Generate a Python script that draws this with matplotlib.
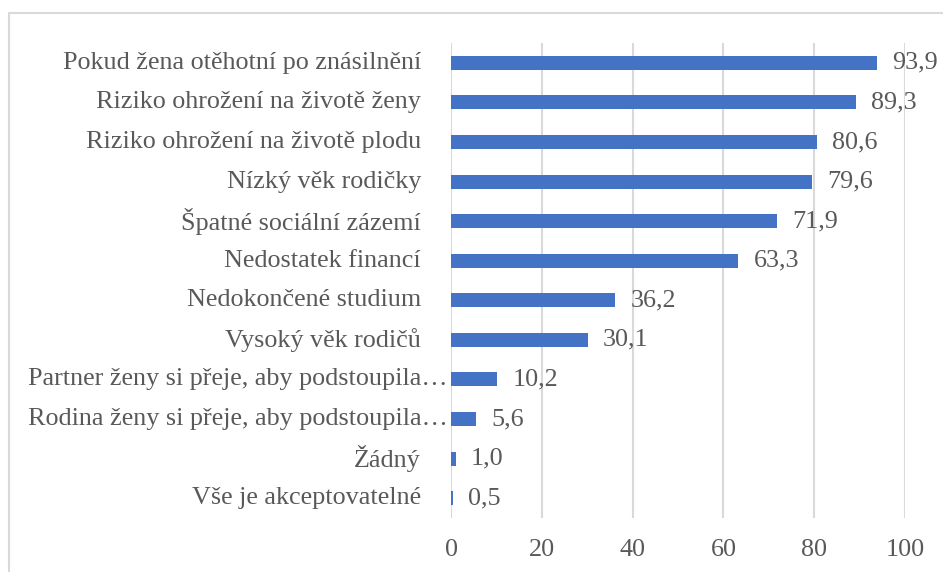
import matplotlib
matplotlib.use("Agg")
import matplotlib.pyplot as plt
from matplotlib.transforms import ScaledTranslation, blended_transform_factory
from matplotlib.patches import Rectangle

categories = [
    "Pokud žena otěhotní po znásilnění",
    "Riziko ohrožení na životě ženy",
    "Riziko ohrožení na životě plodu",
    "Nízký věk rodičky",
    "Špatné sociální zázemí",
    "Nedostatek financí",
    "Nedokončené studium",
    "Vysoký věk rodičů",
    "Partner ženy si přeje, aby podstoupila…",
    "Rodina ženy si přeje, aby podstoupila…",
    "Žádný",
    "Vše je akceptovatelné",
]
values = [93.9, 89.3, 80.6, 79.6, 71.9, 63.3, 36.2, 30.1, 10.2, 5.6, 1.0, 0.5]
truncated = [False] * 8 + [True, True, False, False]
xticks = [0, 20, 40, 60, 80, 100]

plt.rcParams['font.family'] = ['Liberation Serif', 'DejaVu Serif']
TXT = "#595959"
FS = 18.8

fig = plt.figure(figsize=(9.43, 5.72), dpi=100)
ax = fig.add_axes([451/943, 1 - 518/572, (905 - 451)/943, (518 - 43)/572])

# outer chart frame (partially visible)
fig.patches.append(Rectangle((9/943, -0.1), 1.2, 1 - 13/572 + 0.1,
                             transform=fig.transFigure, fill=False,
                             edgecolor="#d9d9d9", linewidth=1.5, zorder=0))

y = list(range(len(categories)))
ax.barh(y, values, height=0.355, color="#4472C4", zorder=3)
ax.set_ylim(len(categories) - 0.5, -0.5)
ax.set_xlim(0, 100)
ax.set_xticks(xticks)
ax.set_xticklabels([str(t) for t in xticks])
ax.set_yticks(y)
ax.set_yticklabels([])
ax.tick_params(axis='x', length=0, pad=15, labelsize=FS, labelcolor=TXT)
ax.tick_params(axis='y', length=0)
ax.grid(axis='x', color="#d9d9d9", linewidth=1.5, zorder=0)
for s in ax.spines.values():
    s.set_visible(False)

blend = blended_transform_factory(ax.transAxes, ax.transData)
for i, (c, tr) in enumerate(zip(categories, truncated)):
    off = -3/100 if tr else -30/100
    t = blend + ScaledTranslation(off, 0, fig.dpi_scale_trans)
    ax.text(0, i, c, transform=t, ha='right', va='center', fontsize=FS, color=TXT)

for i, v in enumerate(values):
    t = ax.transData + ScaledTranslation(15/100, 0, fig.dpi_scale_trans)
    ax.text(v, i, f"{v:.1f}".replace('.', ','), transform=t, ha='left',
            va='center', fontsize=FS, color=TXT)

fig.savefig("out.png", dpi=100)
